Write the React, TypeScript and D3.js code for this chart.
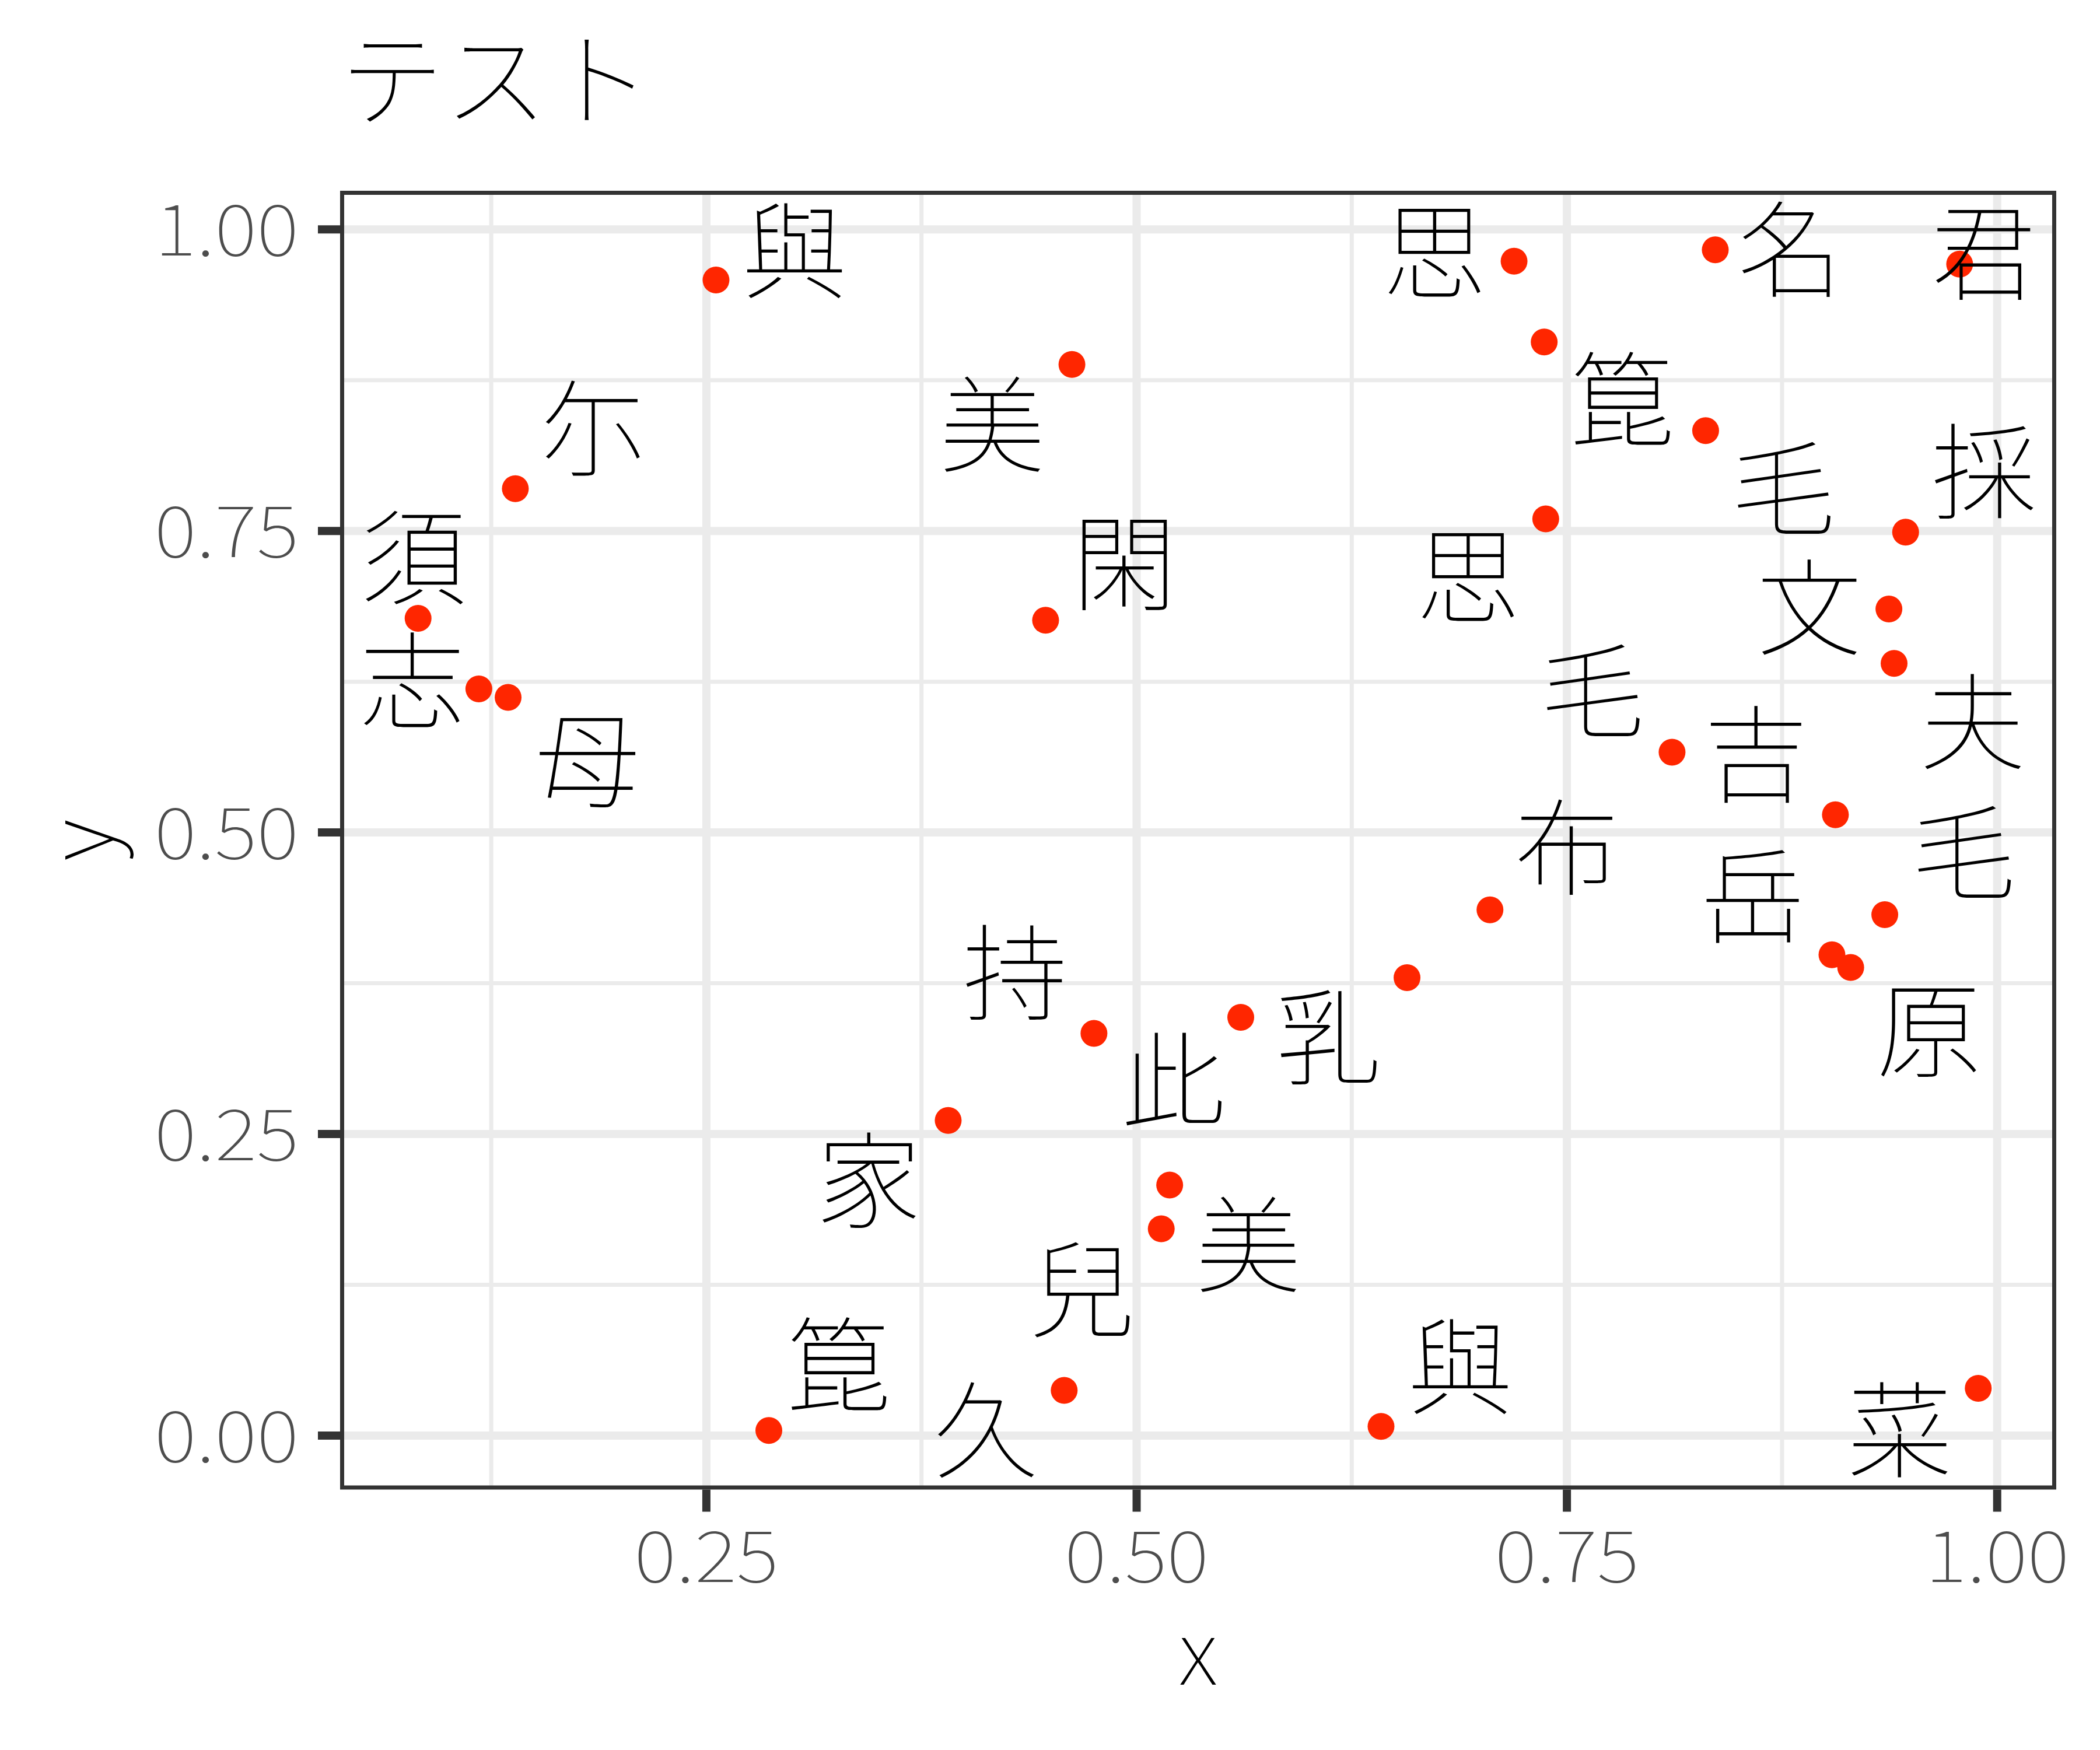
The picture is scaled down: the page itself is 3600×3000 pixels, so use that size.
import React from 'react';
import * as d3 from 'd3';

// ---- data ----
const labels = ['與', '尓', '須', '志', '母', '美', '閑', '思', '名', '君', '箟', '毛', '思', '採', '文', '夫', '毛', '吉', '布', '毛', '岳', '原', '菜', '箟', '家', '持', '此', '乳', '美', '兒', '久', '與'];
const pointX = [0.2556, 0.139, 0.0825, 0.1178, 0.1348, 0.4624, 0.4471, 0.7193, 0.8362, 0.9782, 0.7368, 0.8306, 0.7377, 0.9468, 0.9371, 0.9401, 0.8111, 0.906, 0.7053, 0.9347, 0.904, 0.9149, 0.989, 0.2863, 0.3905, 0.4752, 0.5605, 0.6571, 0.5192, 0.5143, 0.4579, 0.642];
const pointY = [0.958, 0.785, 0.6775, 0.619, 0.612, 0.888, 0.676, 0.9736, 0.9831, 0.9712, 0.9067, 0.8332, 0.76, 0.749, 0.6853, 0.6402, 0.5666, 0.5147, 0.4359, 0.4319, 0.3986, 0.3881, 0.0392, 0.0042, 0.2613, 0.3335, 0.3467, 0.3796, 0.2077, 0.1714, 0.0375, 0.0076];
// repelled label positions (data units)
const labelX = [0.3012, 0.184, 0.0799, 0.0792, 0.1809, 0.4162, 0.4929, 0.6733, 0.8797, 0.9922, 0.7824, 0.8756, 0.6928, 0.9922, 0.8909, 0.9859, 0.7647, 0.86, 0.75, 0.9804, 0.858, 0.9602, 0.9434, 0.3271, 0.3444, 0.4294, 0.5212, 0.6117, 0.565, 0.4685, 0.4125, 0.688];
const labelY = [0.983, 0.8354, 0.729, 0.6266, 0.5603, 0.8386, 0.7243, 0.982, 0.9841, 0.9814, 0.8589, 0.7857, 0.713, 0.7996, 0.6867, 0.592, 0.6178, 0.5656, 0.488, 0.484, 0.4482, 0.3373, 0.0049, 0.0588, 0.2121, 0.384, 0.2949, 0.3305, 0.1589, 0.1215, 0.0052, 0.0575];

const xTicks = [0.25, 0.5, 0.75, 1.0];
const yTicks = [0, 0.25, 0.5, 0.75, 1.0];
const xMinor = [0.125, 0.375, 0.625, 0.875];
const yMinor = [0.125, 0.375, 0.625, 0.875];
const titleText = 'テスト';
const xTitle = 'x';
const yTitle = 'y';

const FONT = '"Noto Sans CJK JP", "Noto Sans", sans-serif';

export default function App() {
  const W = 3600, H = 3000;
  const left = 583, right = 3525, top = 327, bottom = 2553.5;

  const xe = d3.extent(pointX) as [number, number];
  const ye = d3.extent(pointY) as [number, number];
  const xsp = xe[1] - xe[0];
  const ysp = ye[1] - ye[0];
  const x = d3.scaleLinear().domain([xe[0] - 0.05 * xsp, xe[1] + 0.05 * xsp]).range([left, right]);
  const y = d3.scaleLinear().domain([ye[0] - 0.05 * ysp, ye[1] + 0.05 * ysp]).range([bottom, top]);
  const fmt = d3.format('.2f');

  const majorW = 14;
  const minorW = 7;
  const grid = '#EBEBEB';
  const dark = '#333333';
  const tickLen = 38;
  const labelSize = 180;
  const digitStretch = 1.13;

  return (
    <svg width={W} height={H} style={{ position: 'absolute', left: 0, top: 0, display: 'block', background: '#fff' }}
      xmlns="http://www.w3.org/2000/svg">
      <rect x={0} y={0} width={W} height={H} fill="#fff" />
      <defs>
        <clipPath id="panel">
          <rect x={left} y={top} width={right - left} height={bottom - top} />
        </clipPath>
      </defs>
      {/* title */}
      <text x={left} y={203} fontFamily={FONT} fontWeight={100} fontSize={178} fill="#000">{titleText}</text>

      <g clipPath="url(#panel)">
        <rect x={left} y={top} width={right - left} height={bottom - top} fill="#fff" />
        {xMinor.map((v, i) => (
          <line key={'xm' + i} x1={x(v)} x2={x(v)} y1={top} y2={bottom} stroke={grid} strokeWidth={minorW} />
        ))}
        {yMinor.map((v, i) => (
          <line key={'ym' + i} y1={y(v)} y2={y(v)} x1={left} x2={right} stroke={grid} strokeWidth={minorW} />
        ))}
        {xTicks.map((v, i) => (
          <line key={'xM' + i} x1={x(v)} x2={x(v)} y1={top} y2={bottom} stroke={grid} strokeWidth={majorW} />
        ))}
        {yTicks.map((v, i) => (
          <line key={'yM' + i} y1={y(v)} y2={y(v)} x1={left} x2={right} stroke={grid} strokeWidth={majorW} />
        ))}
        {pointX.map((v, i) => (
          <circle key={'p' + i} cx={x(v)} cy={y(pointY[i])} r={23} fill="#FF2600" />
        ))}
        {labels.map((t, i) => (
          <text key={'l' + i} x={x(labelX[i])} y={y(labelY[i])} dy={0.38 * labelSize}
            textAnchor="middle" fontFamily={FONT} fontWeight={100} fontSize={labelSize} fill="#000">{t}</text>
        ))}
        <rect x={left} y={top} width={right - left} height={bottom - top} fill="none" stroke={dark} strokeWidth={14} />
      </g>

      {/* axes ticks */}
      {yTicks.map((v, i) => (
        <g key={'yt' + i}>
          <line x1={left - tickLen} x2={left} y1={y(v)} y2={y(v)} stroke={dark} strokeWidth={majorW} />
          <text transform={`translate(${left - tickLen - 33}, ${y(v) + 45}) scale(${digitStretch}, 1)`}
            textAnchor="end" fontFamily={FONT} fontWeight={100}
            fontSize={122} fill="#4D4D4D">{fmt(v)}</text>
        </g>
      ))}
      {xTicks.map((v, i) => (
        <g key={'xt' + i}>
          <line y1={bottom} y2={bottom + tickLen} x1={x(v)} x2={x(v)} stroke={dark} strokeWidth={majorW} />
          <text transform={`translate(${x(v)}, 2712) scale(${digitStretch}, 1)`} textAnchor="middle"
            fontFamily={FONT} fontWeight={100}
            fontSize={122} fill="#4D4D4D">{fmt(v)}</text>
        </g>
      ))}

      <text x={(left + right) / 2} y={2888} textAnchor="middle" fontFamily={FONT} fontWeight={100} fontSize={152} fill="#000">{xTitle}</text>
      <text transform={`translate(192, ${(top + bottom) / 2}) rotate(-90)`} textAnchor="middle" fontFamily={FONT}
        fontWeight={100} fontSize={152} fill="#000">{yTitle}</text>
    </svg>
  );
}
